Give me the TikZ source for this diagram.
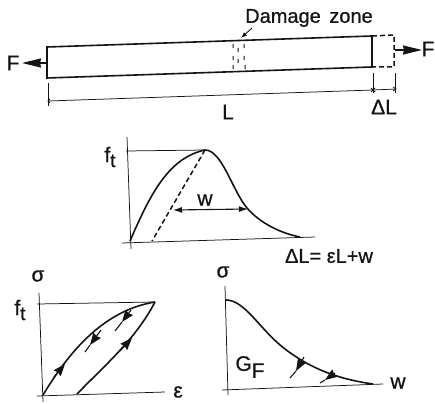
\documentclass[tikz,border=0pt]{standalone}
\usepackage{fontspec}
\setmainfont[RawFeature={embolden=0.8}]{Liberation Sans}
\usetikzlibrary{arrows.meta}
\definecolor{ink}{gray}{0.08}
\tikzset{
  thin line/.style={draw=ink,line width=0.75pt},
  thick line/.style={draw=ink,line width=1.6pt},
  dash line/.style={draw=ink,line width=1.5pt,dash pattern=on 5pt off 3pt},
  force/.style={draw=ink,line width=1.5pt,-{Stealth[length=19pt,width=9pt,inset=1pt]}},
  flow/.style={draw=ink,line width=1.1pt,-{Stealth[length=12pt,width=9pt,inset=1pt]}},
  plain/.style={draw=ink,line width=1.1pt},
  lbl/.style={inner sep=0pt,text=ink,font=\fontsize{21}{23}\selectfont}
}
\begin{document}
\begin{tikzpicture}[x=1pt,y=-1pt]
\useasboundingbox (0,0) rectangle (435,403);
% bar
\coordinate (tl) at (47,47);\coordinate (tr) at (372,36);
\coordinate (br) at (372,67);\coordinate (bl) at (47,78);
\coordinate (dt) at (394,35);\coordinate (db) at (394,67);
\draw[thick line] (tl)--(tr)--(br)--(bl)--cycle;
\draw[dash line] (tr)--(dt)--(db)--(br);
% forces
\coordinate (fl0) at (46,63);\coordinate (fl1) at (22,63);
\coordinate (fr0) at (395,50);\coordinate (fr1) at (422,50);
\draw[force] (fl0)--(fl1);
\draw[force] (fr0)--(fr1);
\node[lbl] (Fl) at (13,63) {F};
\node[lbl] (Fr) at (428,49) {F};
% damage zone
\node[lbl,font=\fontsize{20}{22}\selectfont] (dz) at (309,18) {Damage\hspace{3pt} zone};
\coordinate (dz0) at (252,28);\coordinate (dz1) at (241,38);
\draw[draw=ink,line width=0.9pt,-{Latex[length=6pt,width=4.5pt]}] (dz0)--(dz1);
\foreach \x/\y in {233/44,233/56,233/65,238/48,238/59,244/44,244/56,245/65}
  \draw[draw=ink,line width=1pt] (\x,\y) .. controls (\x+1.2,\y+1.5) and (\x-1,\y+2.5) .. (\x,\y+4);
% dimensions
\draw[thin line] (48,83)--(48,106);
\draw[thin line] (373,73)--(373,93);
\draw[thin line] (395,73)--(395,93);
\draw[thin line] (48,101)--(373,90)--(396,89);
\draw[thin line] (50,99)--(48,101)--(50,103);
\draw[thin line] (371,88)--(373,90)--(371,92);
\draw[thin line] (375,88)--(373,90)--(375,92);
\draw[thin line] (393,87)--(396,89)--(393,91);
\node[lbl] (L) at (228,112) {L};
\node[lbl] (dL) at (384,107) {ΔL};
% middle graph
\coordinate (ma0) at (127,137);\coordinate (ma1) at (131,249);
\coordinate (mb0) at (122,243);\coordinate (mb1) at (315,237);
\coordinate (mp) at (205,150);\coordinate (mf) at (126,151);
\coordinate (mo) at (130,241);\coordinate (md) at (152,241);\coordinate (me) at (300,237);
\draw[thin line] (ma0)--(ma1);
\draw[thin line] (mb0)--(mb1);
\draw[thin line] (mf)--(mp);
\draw[thick line] (mo) .. controls (150,195) and (168,158) .. (mp)
  .. controls (222,150) and (232,190) .. (247,208)
  .. controls (260,223) and (280,233) .. (me);
\draw[dash line] (mp)--(md);
\draw[draw=ink,line width=1.1pt,{Latex[length=9pt,width=6pt]}-{Latex[length=9pt,width=6pt]}] (173,210)--(248,209);
\node[lbl] (ft1) at (110,157) {f\raisebox{-5pt}{\fontsize{19}{19}\selectfont t}};
\node[lbl] (w1) at (205,200) {w};
\node[lbl,font=\fontsize{20}{22}\selectfont] (eq) at (329,256) {ΔL= εL+w};
% lower left graph
\coordinate (la0) at (39,293);\coordinate (la1) at (43,402);
\coordinate (lb0) at (37,396);\coordinate (lb1) at (165,392);
\coordinate (lf) at (37,304);\coordinate (lp) at (155,302);
\coordinate (lo) at (43,395);\coordinate (lu) at (77,394);
\draw[thin line] (la0)--(la1);
\draw[thin line] (lb0)--(lb1);
\draw[thin line] (lf)--(lp);
\draw[thick line] (lo) .. controls (70,350) and (105,310) .. (lp);
\draw[thick line] (lu) .. controls (105,365) and (135,340) .. (lp);
\coordinate (a1) at (54,377);\coordinate (a2) at (65,364);
\coordinate (a3) at (120,351);\coordinate (a4) at (132,338);
\coordinate (a5) at (85,352);\coordinate (a5m) at (90,345);\coordinate (a6) at (101,330);
\coordinate (a7) at (115,331);\coordinate (a7m) at (122,322);\coordinate (a8) at (131,310);
\draw[flow] (a1)--(a2);
\draw[flow] (a3)--(a4);
\draw[flow] (a6)--(a5m);\draw[plain] (a5m)--(a5);
\draw[flow] (a8)--(a7m);\draw[plain] (a7m)--(a7);
\node[lbl] (s1) at (38,276) {σ};
\node[lbl] (ft2) at (20,310) {f\raisebox{-5pt}{\fontsize{19}{19}\selectfont t}};
\node[lbl] (eps) at (178,392) {ε};
% lower right graph
\coordinate (ra0) at (225,286);\coordinate (ra1) at (228,395);
\coordinate (rb0) at (222,390);\coordinate (rb1) at (383,384);
\coordinate (rs) at (226,300);\coordinate (re) at (373,384);
\draw[thin line] (ra0)--(ra1);
\draw[thin line] (rb0)--(rb1);
\draw[thick line] (rs) .. controls (245,300) and (260,330) .. (285,349)
  .. controls (315,372) and (345,380) .. (re);
\coordinate (b1) at (304,357);\coordinate (bm) at (296,371);\coordinate (b2) at (290,378);
\coordinate (b3) at (335,373);\coordinate (bn) at (325,380);\coordinate (b4) at (320,383);
\draw[flow] (b1)--(bm);\draw[plain] (bm)--(b2);
\draw[flow] (b3)--(bn);\draw[plain] (bn)--(b4);
\node[lbl] (s2) at (223,272) {σ};
\node[lbl] (GF) at (250,367) {G\raisebox{-7pt}{F}};
\node[lbl] (w2) at (398,383) {w};
\end{tikzpicture}
\end{document}
